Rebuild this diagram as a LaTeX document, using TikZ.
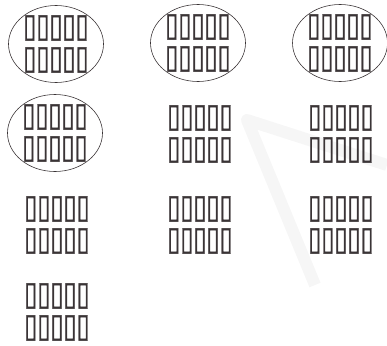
\documentclass[tikz,border=0pt]{standalone}
\usepackage{fontspec}
\newfontfamily\tofufont[FakeStretch=0.72, FakeBold=1.2]{DejaVu Sans}
\usetikzlibrary{shapes.geometric, backgrounds}
\definecolor{Ink}{HTML}{3A3436}
\definecolor{Mark}{HTML}{F6F6F6}
\newcommand{\tofurow}{▯▯▯▯▯}

\begin{document}
\begin{tikzpicture}[
            x=1pt, y=-1pt,
            item/.style={align=center, inner sep=0pt, font=\tofufont\fontsize{33}{32}\selectfont, text=Ink},
            oval/.style={item, ellipse, draw=Ink, semithick, inner ysep=-9pt, minimum width=95pt, minimum height=77pt}
        ]
            \useasboundingbox (0,0) rectangle (387,345);

            \node[oval] (r1c1) at (56,44) {\tofurow\\\tofurow};
            \node[oval] (r1c2) at (198,43) {\tofurow\\\tofurow};
            \node[oval] (r1c3) at (340,43) {\tofurow\\\tofurow};
            \node[oval] (r2c1) at (55,133) {\tofurow\\\tofurow};
            \node[item] (r2c2) at (200,134) {\tofurow\\\tofurow};
            \node[item] (r2c3) at (341,134) {\tofurow\\\tofurow};
            \node[item] (r3c1) at (57,225) {\tofurow\\\tofurow};
            \node[item] (r3c2) at (200,225) {\tofurow\\\tofurow};
            \node[item] (r3c3) at (341,225) {\tofurow\\\tofurow};
            \node[item] (r4c1) at (57,312) {\tofurow\\\tofurow};

            % faint mark behind
            \begin{scope}[on background layer]
                \draw[Mark, line width=12pt, line join=round] (387,165) -- (247,120) -- (315,285);
            \end{scope}
        \end{tikzpicture}
\end{document}
